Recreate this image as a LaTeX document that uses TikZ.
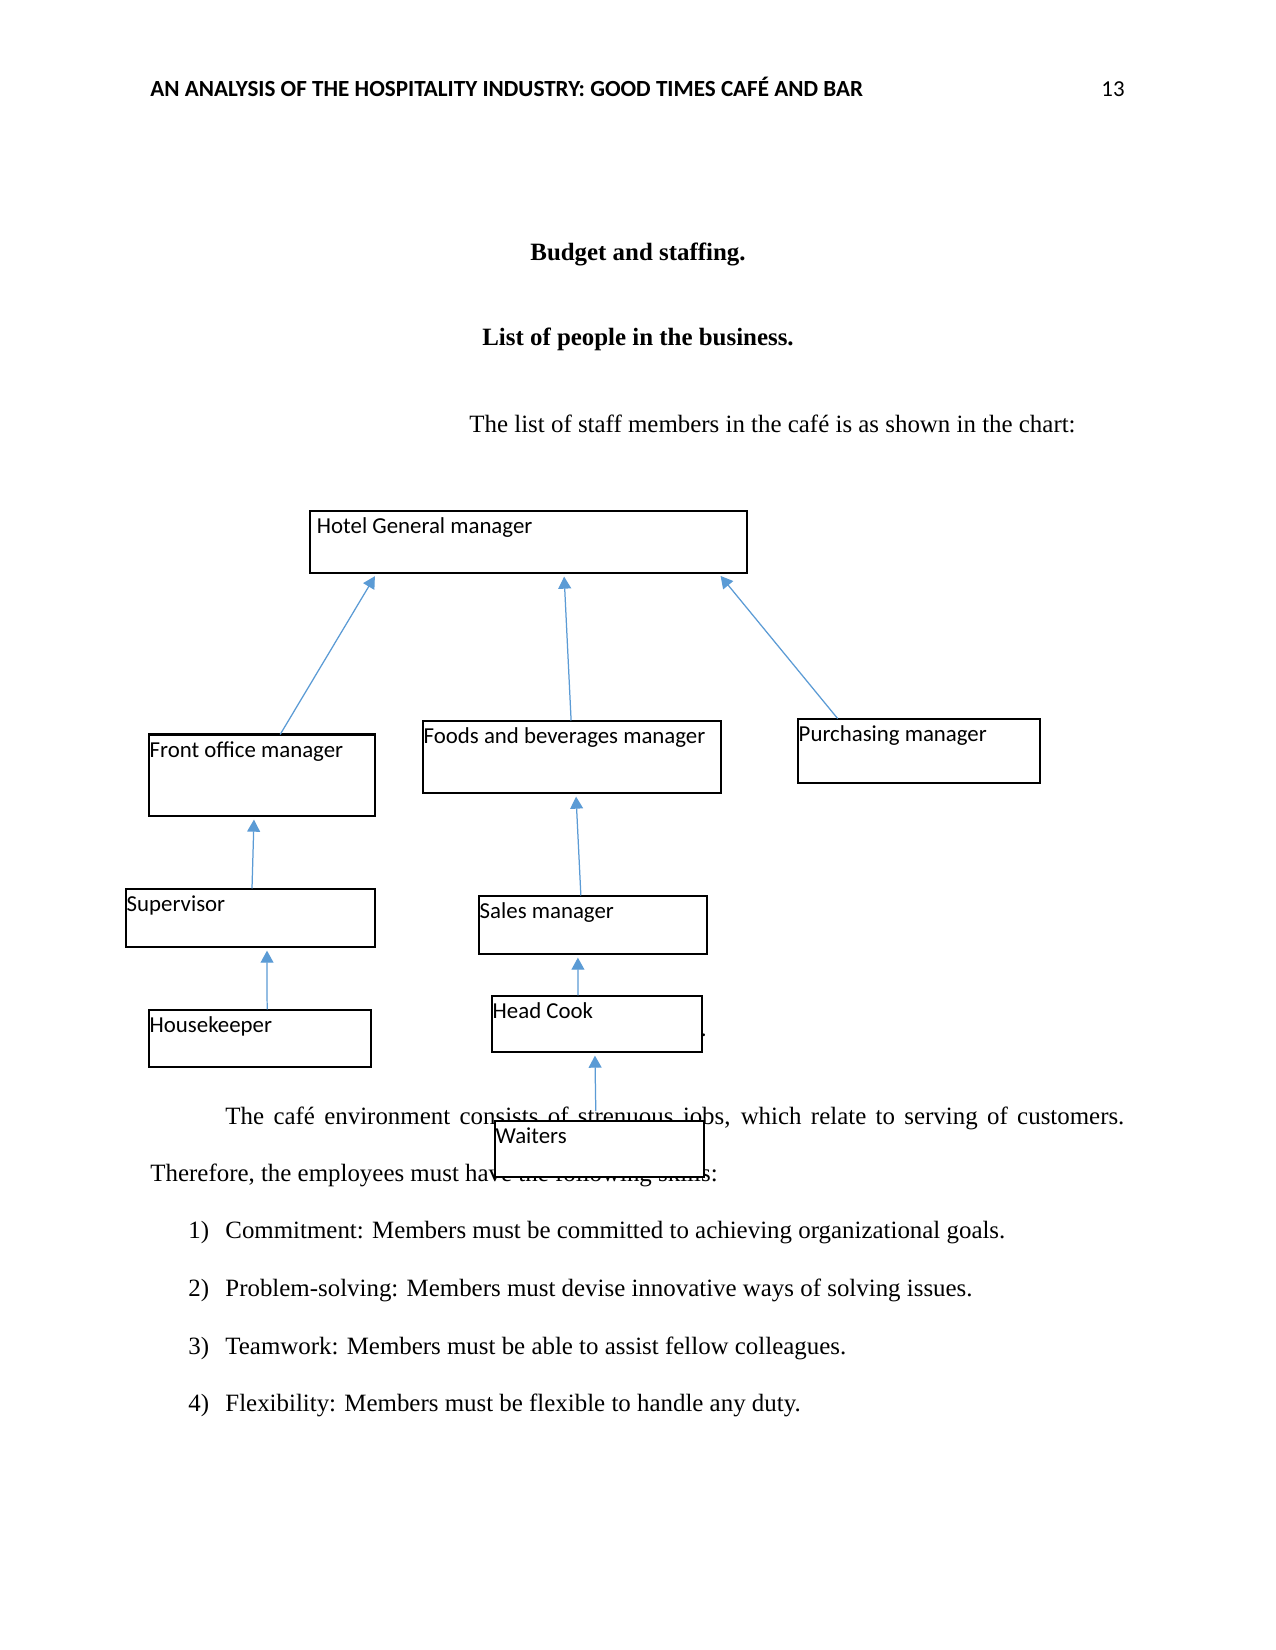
\documentclass[tikz,border=0pt]{standalone}
\usepackage{fontspec}
\setmainfont{Liberation Serif}
\newfontfamily\calibri{Carlito}
\usetikzlibrary{arrows.meta,calc,fit}
\definecolor{lnk}{HTML}{5B9BD5}

\begin{document}
\begin{tikzpicture}[x=0.48176pt,y=-0.48176pt,
   bx/.style={draw,line width=0.5pt,inner sep=0pt,fill=white},
   tx/.style={anchor=base west,inner sep=0pt,xshift=0.4pt,yshift=-11pt,
              font=\calibri\fontsize{11}{13}\selectfont},
   up/.style={draw=lnk,line width=0.6pt,-{Triangle[length=5.8pt,width=6.2pt]},shorten >=1.5pt},
   body/.style={inner sep=0pt,anchor=base west,font=\fontsize{12}{14}\selectfont},
   head/.style={inner sep=0pt,anchor=base,font=\bfseries\fontsize{12}{14}\selectfont}]
  \fill[white] (0,0) rectangle (1275,1650);
  \useasboundingbox (0,0) rectangle (1275,1650);

  \node[anchor=base west,inner sep=0pt,font=\calibri\bfseries\fontsize{11.13}{13}\selectfont] (hdr) at (150,97)
     {AN ANALYSIS OF THE HOSPITALITY INDUSTRY: GOOD TIMES CAFÉ AND BAR};
  \node[anchor=base east,inner sep=0pt,font=\calibri\fontsize{11}{13}\selectfont] (pg) at (1125,97) {13};

  \node[head] (ttl) at (638,261) {Budget and staffing.};
  \node[head] (sub) at (638,346) {List of people in the business.};
  \node[body] (lead) at (469,433) {The list of staff members in the café is as shown in the chart:};

  \node[body] (p1) at (225,1124)
     {\makebox[433.1pt][s]{The café environment consists of strenuous jobs, which relate to serving of customers.}};
  \node[body] (p2) at (150,1181) {Therefore, the employees must have the following skills:};
  \foreach \n/\y/\t in {1/1238/{Commitment: Members must be committed to achieving organizational goals.},
                        2/1296/{Problem-solving: Members must devise innovative ways of solving issues.},
                        3/1354/{Teamwork: Members must be able to assist fellow colleagues.},
                        4/1411/{Flexibility: Members must be flexible to handle any duty.}}{
    \node[body] (n\n) at (188,\y) {\n)};
    \node[body] (i\n) at (225,\y) {\t};
  }

  \node[bx,fit={(310,511) (747,573)},label={[tx,xshift=3pt]north west:Hotel General manager}] (hgm) {};
  \node[bx,fit={(149,735) (375,816)},label={[tx]north west:Front office manager}] (fom) {};
  \node[bx,fit={(423,721) (721,793)},label={[tx]north west:Foods and beverages manager}] (fbm) {};
  \node[bx,fit={(798,719) (1040,783)},label={[tx]north west:Purchasing manager}] (pm) {};
  \node[bx,fit={(126,889) (375,947)},label={[tx]north west:Supervisor}] (sup) {};
  \node[bx,fit={(479,896) (707,954)},label={[tx]north west:Sales manager}] (sm) {};
  \node[bx,fit={(149,1010) (371,1067)},label={[tx]north west:Housekeeper}] (hk) {};
  \node[bx,fit={(492,996) (702,1052)},label={[tx]north west:Head Cook},
        label={[tx,xshift=-1.4pt,yshift=5.2pt]east:.}] (hc) {};
  \node[bx,fit={(495,1121) (704,1177)},label={[tx]north west:Waiters}] (wt) {};
  \draw[line width=1.1pt] (fom.north west) -- (fom.north east);

  \draw[up] ($(fom.north west)!0.58!(fom.north east)$) -- ($(hgm.south west)!0.153!(hgm.south east)$);
  \draw[up] ($(fbm.north west)!0.497!(fbm.north east)$) -- ($(hgm.south west)!0.581!(hgm.south east)$);
  \draw[up] ($(pm.north west)!0.165!(pm.north east)$) -- ($(hgm.south west)!0.934!(hgm.south east)$);
  \draw[up] ($(sup.north west)!0.506!(sup.north east)$) -- ($(fom.south west)!0.465!(fom.south east)$);
  \draw[up] ($(sm.north west)!0.447!(sm.north east)$) -- ($(fbm.south west)!0.513!(fbm.south east)$);
  \draw[up] ($(hk.north west)!0.532!(hk.north east)$) -- ($(sup.south west)!0.566!(sup.south east)$);
  \draw[up] ($(hc.north west)!0.41!(hc.north east)$) -- ($(sm.south west)!0.434!(sm.south east)$);
  \draw[up,shorten <=4.5pt] ($(wt.north west)!0.483!(wt.north east)$) -- ($(hc.south west)!0.49!(hc.south east)$);
\end{tikzpicture}
\end{document}
